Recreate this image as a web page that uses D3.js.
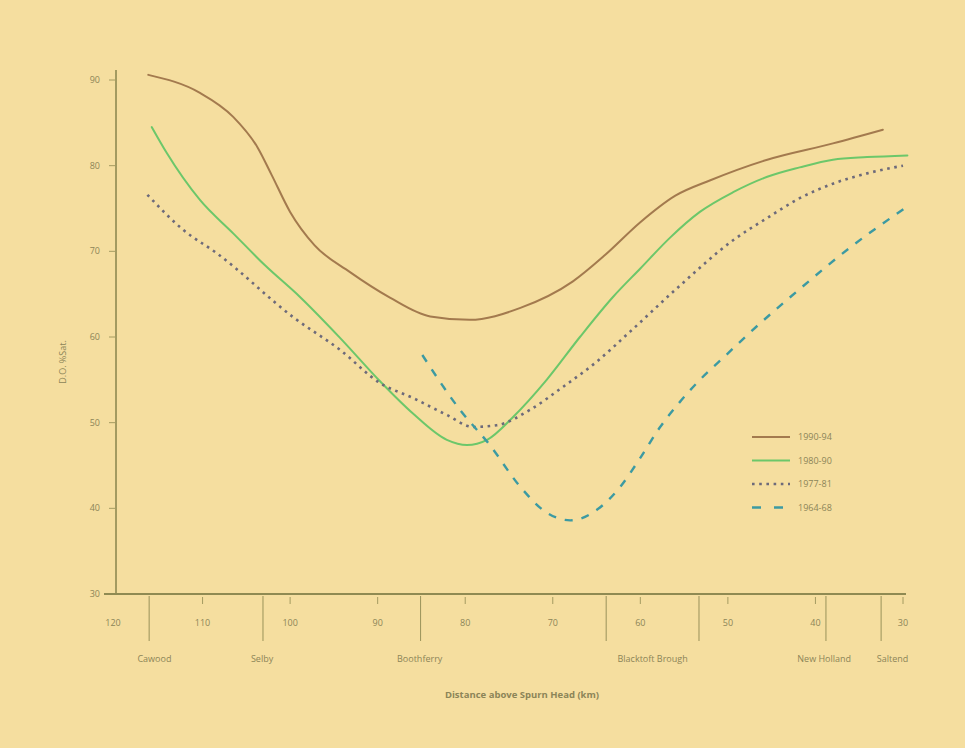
<!DOCTYPE html>
<html>
<head>
<meta charset="utf-8">
<script src="https://cdn.jsdelivr.net/npm/d3@7"></script>
<style>
  body { margin: 0; background: #f5de9f; }
  svg { display: block; }
  text { font-family: "Open Sans", "DejaVu Sans", sans-serif; fill: #8c8558; }
</style>
</head>
<body>
<script>
// series (km above Spurn Head, D.O. % saturation)
var km9094 = [116.2, 110.3, 106.5, 103.7, 102.1, 100, 97.2, 93.2, 88.6, 84, 79.5, 73.7, 67.7, 64, 60, 56, 52, 45.5, 38, 32.3];
var do9094 = [90.6, 88.5, 85.7, 82.1, 78.9, 74.6, 70.7, 67.6, 64.6, 62.4, 62, 63.4, 66.5, 69.6, 73.4, 76.5, 78.3, 80.7, 82.6, 84.2];

var km8090 = [115.8, 114.1, 110.3, 106.5, 102.9, 98.9, 94.3, 89.7, 86, 82.1, 79.8, 77.5, 74.5, 70.7, 66.9, 63.1, 60, 56.6, 53.2, 49.4, 45.5, 41.8, 38, 34.1, 29.5];
var do8090 = [84.5, 81.5, 76, 72.1, 68.4, 64.7, 59.9, 54.8, 51.1, 48, 47.4, 48, 50.7, 55, 60, 64.7, 68, 71.6, 74.6, 76.9, 78.7, 79.8, 80.7, 81, 81.2];

var km7781 = [116.3, 112.2, 108.4, 99.5, 94.3, 89.7, 86, 82.1, 79.1, 76.4, 72.6, 68.8, 65, 61.2, 55.8, 49.4, 45.5, 41.8, 38, 34.1, 30];
var do7781 = [76.6, 72.5, 69.8, 62.2, 58.5, 54.6, 52.9, 50.9, 49.5, 49.7, 51.5, 54.2, 57.1, 60.6, 65.7, 71.3, 73.9, 76.2, 77.9, 79.1, 80];

var km6468 = [84.9, 80.6, 77.2, 73.7, 70.7, 68, 65, 62.3, 60, 57.8, 55.5, 53.2, 50.3, 47.5, 41.8, 36.1, 29.7];
var do6468 = [57.9, 51.5, 47.4, 42.5, 39.5, 38.6, 39.8, 42.5, 45.9, 49.4, 52.4, 55, 57.8, 60.5, 65.6, 70.4, 75.1];

var seriesNames = ["1990-94", "1980-90", "1977-81", "1964-68"];

// axis ticks
var xTicks = [120, 110, 100, 90, 80, 70, 60, 50, 40, 30];
var yTicks = [30, 40, 50, 60, 70, 80, 90];

// places along the estuary
var placeKm = [116.1, 103.1, 85.1, 63.9, 53.3, 38.8, 32.5];
var placeNames = ["Cawood", "Selby", "Boothferry", "Blacktoft Brough", "", "New Holland", "Saltend"];
var placeLabelKm = [115.5, 103.2, 85.2, 58.6, 0, 39, 31.2];

var width = 965, height = 748;

var svg = d3.select("body").append("svg").attr("width", width).attr("height", height);

var x = d3.scaleLinear().domain([120, 30]).range([115, 903]);
var y = d3.scaleLinear().domain([30, 90]).range([594, 80]);

var axisCol = "#8f8a52";

// y axis line + ticks
svg.append("line").attr("x1", 116).attr("x2", 116).attr("y1", 70).attr("y2", 595)
  .attr("stroke", axisCol).attr("stroke-width", 1.6);
svg.append("g").selectAll("line").data(yTicks).enter().append("line")
  .attr("x1", 109).attr("x2", 115)
  .attr("y1", function (d) { return y(d); }).attr("y2", function (d) { return y(d); })
  .attr("stroke", axisCol).attr("stroke-width", 0.8);
svg.append("g").selectAll("text").data(yTicks).enter().append("text")
  .attr("x", 100).attr("y", function (d) { return y(d) + 3; })
  .attr("text-anchor", "end").attr("font-size", 9)
  .text(function (d) { return d; });

svg.append("text").attr("transform", "translate(66,362) rotate(-90)")
  .attr("text-anchor", "middle").attr("font-size", 9).text("D.O. %Sat.");

// x axis line + ticks
svg.append("line").attr("x1", 104).attr("x2", 906).attr("y1", 594).attr("y2", 594)
  .attr("stroke", axisCol).attr("stroke-width", 1.8);
svg.append("g").selectAll("line").data(xTicks.slice(1)).enter().append("line")
  .attr("x1", function (d) { return x(d); }).attr("x2", function (d) { return x(d); })
  .attr("y1", 597).attr("y2", 604)
  .attr("stroke", axisCol).attr("stroke-width", 0.8);
svg.append("g").selectAll("text").data(xTicks).enter().append("text")
  .attr("x", function (d, i) { return i == 0 ? x(d) - 2 : x(d); }).attr("y", 626)
  .attr("text-anchor", "middle").attr("font-size", 9)
  .text(function (d) { return d; });

// place markers
svg.append("g").selectAll("line").data(placeKm).enter().append("line")
  .attr("x1", function (d) { return x(d); }).attr("x2", function (d) { return x(d); })
  .attr("y1", 596).attr("y2", 641)
  .attr("stroke", axisCol).attr("stroke-width", 0.9);
svg.append("g").selectAll("text").data(placeLabelKm).enter().append("text")
  .attr("x", function (d) { return x(d); }).attr("y", 662)
  .attr("text-anchor", "middle").attr("font-size", 9)
  .text(function (d, i) { return placeNames[i]; });

svg.append("text").attr("x", 522).attr("y", 698).attr("text-anchor", "middle")
  .attr("font-size", 9.5).attr("font-weight", "bold").text("Distance above Spurn Head (km)");

// curves
var line = d3.line()
  .x(function (d) { return x(d[0]); })
  .y(function (d) { return y(d[1]); })
  .curve(d3.curveMonotoneX);

var styles = [
  { col: "#a37a4e", w: 2, dash: null, cap: "round" },
  { col: "#6cc76a", w: 2, dash: null, cap: "round" },
  { col: "#6d6a7a", w: 2.6, dash: "2.6,4.6", cap: "butt" },
  { col: "#3c9aa2", w: 2.4, dash: "8,9", cap: "butt" }
];
var kmArr = [km9094, km8090, km7781, km6468];
var doArr = [do9094, do8090, do7781, do6468];

for (var s = 0; s < 4; s++) {
  var pts = kmArr[s].map(function (k, i) { return [k, doArr[s][i]]; });
  svg.append("path")
    .attr("d", line(pts))
    .attr("fill", "none")
    .attr("stroke", styles[s].col)
    .attr("stroke-width", styles[s].w)
    .attr("stroke-linecap", styles[s].cap)
    .attr("stroke-dasharray", styles[s].dash);
}

// legend
var lg = svg.append("g").attr("transform", "translate(752,437)");
for (var j = 0; j < 4; j++) {
  var gy = j * 23.5;
  lg.append("line").attr("x1", 0).attr("x2", 38).attr("y1", gy).attr("y2", gy)
    .attr("stroke", styles[j].col).attr("stroke-width", styles[j].w)
    .attr("stroke-dasharray", j == 3 ? "9,13" : styles[j].dash);
  lg.append("text").attr("x", 46).attr("y", gy + 3).attr("font-size", 9)
    .text(seriesNames[j]);
}
</script>
</body>
</html>
